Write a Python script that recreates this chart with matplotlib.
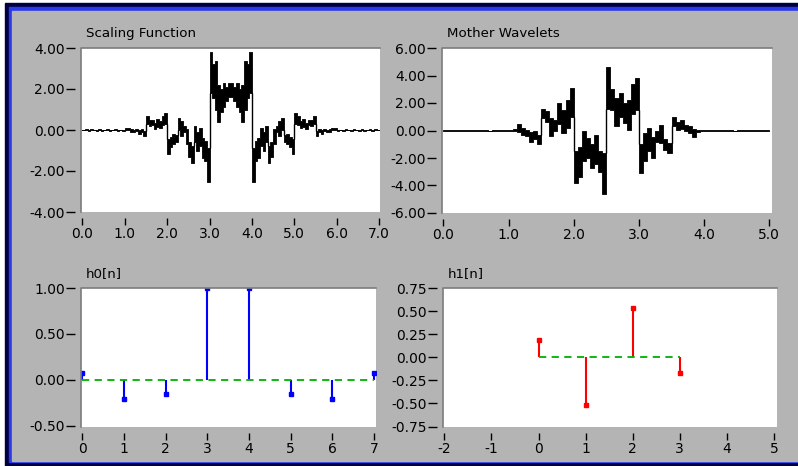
import numpy as np
import matplotlib
matplotlib.use("Agg")
import matplotlib.pyplot as plt
from matplotlib.patches import Rectangle
from matplotlib.ticker import FormatStrFormatter, MultipleLocator

plt.rcParams['font.family'] = ['DejaVu Sans']

W, H = 798, 466

# scaling function: one (low, high) band per 1/16 step of x, 0..7
phi_dx = 1 / 16
phi_lo = [-0.02, 0.00, -0.03, -0.01, -0.02, -0.04, -0.01, -0.03,
          -0.02, 0.00, -0.03, -0.02, -0.01, -0.04, -0.02, -0.03,
          -0.02, 0.00, -0.10, -0.12, -0.05, -0.18, -0.12, -0.30,
          0.30, 0.20, 0.25, 0.03, 0.15, 0.10, 0.25, 0.30,
          -1.17, -0.85, -0.70, -0.60, 0.00, -0.30, -0.10, -0.70,
          -1.30, -1.60, -0.60, -1.00, -0.80, -1.35, -1.50, -2.55,
          1.80, 1.55, 1.00, 0.40, 0.90, 1.10, 1.40, 1.60,
          1.60, 1.40, 1.10, 0.90, 0.40, 1.00, 1.55, 1.80,
          -2.55, -1.50, -1.35, -0.80, -1.00, -0.60, -1.60, -1.30,
          -0.70, -0.10, -0.30, 0.00, -0.60, -0.70, -0.85, -1.17,
          0.30, 0.25, 0.10, 0.15, 0.03, 0.25, 0.20, 0.30,
          -0.30, -0.12, -0.18, -0.05, -0.12, -0.10, 0.00, -0.02,
          -0.03, -0.02, -0.04, -0.01, -0.02, -0.03, 0.00, -0.02,
          -0.03, -0.01, -0.04, -0.02, -0.01, -0.03, 0.00, -0.02]
phi_hi = [0.02, 0.03, 0.01, 0.03, 0.02, 0.00, 0.03, 0.01,
          0.02, 0.04, 0.01, 0.02, 0.03, 0.00, 0.02, 0.01,
          0.08, 0.12, 0.05, 0.02, 0.05, -0.02, 0.03, -0.05,
          0.68, 0.50, 0.50, 0.35, 0.55, 0.45, 0.70, 0.85,
          -0.45, -0.35, -0.20, -0.25, 0.60, 0.45, 0.20, 0.05,
          -0.60, -0.80, 0.20, -0.10, 0.10, -0.40, -0.55, -0.90,
          3.80, 3.20, 3.35, 2.20, 2.00, 2.30, 2.10, 2.30,
          2.30, 2.10, 2.30, 2.00, 2.20, 3.35, 3.20, 3.80,
          -0.90, -0.55, -0.40, 0.10, -0.10, 0.20, -0.80, -0.60,
          0.05, 0.20, 0.45, 0.60, -0.25, -0.20, -0.35, -0.45,
          0.85, 0.70, 0.45, 0.55, 0.35, 0.50, 0.50, 0.68,
          -0.05, 0.03, -0.02, 0.05, 0.02, 0.05, 0.12, 0.08,
          0.01, 0.02, 0.00, 0.03, 0.02, 0.01, 0.04, 0.02,
          0.01, 0.03, 0.00, 0.02, 0.03, 0.01, 0.03, 0.02]

# mother wavelet, same layout, 0..5
psi_dx = 1 / 16
psi_lo = [-0.02, -0.03, 0.00, -0.02, -0.01, -0.03, -0.02, 0.00,
          -0.03, -0.01, -0.02, -0.04, -0.01, -0.02, -0.03, -0.01,
          -0.05, -0.03, -0.10, -0.30, -0.40, -0.80, -0.60, -1.00,
          0.90, 0.65, -0.40, 0.00, 0.50, -0.20, 0.20, 1.00,
          -3.80, -3.40, -2.24, -2.00, -2.70, -2.40, -3.00, -4.65,
          1.60, 1.50, 0.30, 1.00, 0.55, 0.05, 1.20, 1.50,
          -3.10, -2.20, -1.50, -2.00, -0.80, -0.90, -1.40, -1.60,
          0.30, 0.05, 0.10, -0.05, -0.20, -0.45, -0.10, -0.06,
          -0.03, -0.01, -0.02, -0.03, 0.00, -0.02, -0.01, -0.04,
          -0.02, -0.03, -0.01, -0.02, -0.03, 0.00, -0.01, -0.02]
psi_hi = [0.02, 0.01, 0.03, 0.02, 0.03, 0.01, 0.02, 0.04,
          0.01, 0.03, 0.02, 0.00, 0.03, 0.02, 0.01, 0.03,
          0.06, 0.10, 0.45, 0.20, 0.05, -0.10, -0.05, -0.30,
          1.60, 1.40, 0.90, 0.80, 2.00, 1.50, 2.20, 3.10,
          -1.50, -1.20, -0.05, -0.55, -1.00, -0.30, -1.50, -1.60,
          4.65, 3.00, 2.40, 2.70, 2.00, 2.24, 3.40, 3.80,
          -1.00, -0.20, 0.20, -0.50, 0.00, 0.40, -0.65, -0.90,
          1.00, 0.60, 0.80, 0.40, 0.30, 0.10, 0.03, 0.05,
          0.01, 0.02, 0.03, 0.01, 0.04, 0.02, 0.03, 0.00,
          0.02, 0.01, 0.03, 0.02, 0.01, 0.03, 0.02, 0.02]

# filter coefficients
h0_n = [0, 1, 2, 3, 4, 5, 6, 7]
h0 = [0.07, -0.21, -0.155, 1.0, 1.0, -0.155, -0.21, 0.07]
h1_n = [0, 1, 2, 3]
h1 = [0.19, -0.52, 0.53, -0.17]

PANEL = '#b4b4b4'

fig = plt.figure(figsize=(W / 100, H / 100), dpi=100, facecolor='white')

# window frame drawn in pixel units
bg = fig.add_axes([0, 0, 1, 1])
bg.set_xlim(0, W)
bg.set_ylim(H, 0)
bg.axis('off')
bg.add_patch(Rectangle((5, 3), 800, 470, color='#000040'))
bg.add_patch(Rectangle((9, 7), 800, 455, color='#2a3ae8'))
bg.add_patch(Rectangle((12, 11), 800, 450, color=PANEL))


def place(left, top, right, bottom):
    return fig.add_axes([left / W, 1 - bottom / H, (right - left) / W, (bottom - top) / H])


def style(ax, xfmt, yfmt, xstep, ystep):
    ax.set_facecolor('white')
    for side in ['top', 'right']:
        ax.spines[side].set_visible(False)
    for side in ['left', 'bottom']:
        ax.spines[side].set_position(('outward', 4))
        ax.spines[side].set_color('none')
    ax.xaxis.set_major_locator(MultipleLocator(xstep))
    ax.yaxis.set_major_locator(MultipleLocator(ystep))
    ax.xaxis.set_major_formatter(FormatStrFormatter(xfmt))
    ax.yaxis.set_major_formatter(FormatStrFormatter(yfmt))
    ax.tick_params(axis='y', direction='out', length=6.5, width=1, pad=1, labelsize=10)
    ax.tick_params(axis='x', direction='out', length=5, width=1, pad=2, labelsize=10)
    # sunken edge along top and left of the plot area
    ax.plot([0, 0, 1], [0, 1, 1], transform=ax.transAxes, color='#7c7c7c',
            lw=1.2, clip_on=False, zorder=5)


def band(ax, dx, lo, hi):
    edges = np.arange(len(lo) + 1) * dx
    ax.fill_between(edges, lo + [lo[-1]], hi + [hi[-1]], step='post',
                    facecolor='black', edgecolor='black', lw=0.6)
    for k in range(len(lo) - 1):
        if hi[k] < lo[k + 1]:
            ax.vlines(edges[k + 1], hi[k], lo[k + 1], color='black', lw=1)
        elif lo[k] > hi[k + 1]:
            ax.vlines(edges[k + 1], hi[k + 1], lo[k], color='black', lw=1)


def stems(ax, n, h, color):
    m, s, b = ax.stem(n, h, linefmt='-', markerfmt='s', basefmt='--')
    s.set_color(color)
    s.set_linewidth(1.5)
    m.set_color(color)
    m.set_markersize(3.5)
    b.set_color('#00b000')
    b.set_linewidth(1.3)
    b.set_dashes([4, 3])


ax1 = place(81, 48, 380, 212)
band(ax1, phi_dx, phi_lo, phi_hi)
ax1.set_xlim(-0.03, 7.02)
ax1.set_ylim(-4, 4)
style(ax1, '%.1f', '%.2f', 1, 2)

ax2 = place(442, 48, 772, 213)
band(ax2, psi_dx, psi_lo, psi_hi)
ax2.set_xlim(-0.02, 5.041)
ax2.set_ylim(-6, 6)
style(ax2, '%.1f', '%.2f', 1, 2)

ax3 = place(81, 288, 376, 427)
stems(ax3, h0_n, h0, '#0000ff')
ax3.set_xlim(-0.031, 7.048)
ax3.set_ylim(-0.514, 1.0)
style(ax3, '%d', '%.2f', 1, 0.5)

ax4 = place(443, 288, 777, 427)
stems(ax4, h1_n, h1, '#ff0000')
ax4.set_xlim(-2.028, 5.064)
ax4.set_ylim(-0.755, 0.75)
style(ax4, '%d', '%.2f', 1, 0.25)

bg.text(86, 37, 'Scaling Function', fontsize=9.6, va='baseline')
bg.text(447, 37, 'Mother Wavelets', fontsize=9.6, va='baseline')
bg.text(86, 277, 'h0[n]', fontsize=9.6, va='baseline')
bg.text(448, 277, 'h1[n]', fontsize=9.6, va='baseline')

fig.savefig('out.png', dpi=100, facecolor='white')
